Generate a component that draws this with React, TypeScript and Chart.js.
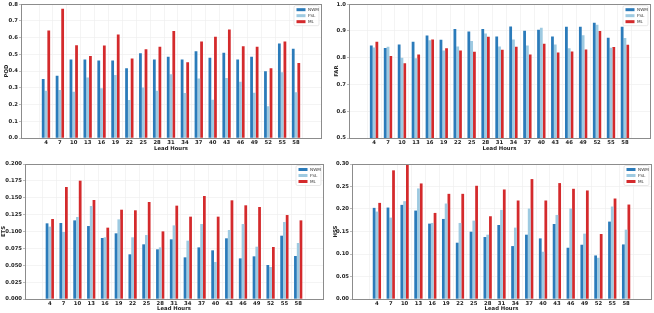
import React, { useEffect, useRef } from "react";
import { Chart, registerables } from "chart.js";

Chart.register(...registerables);

const LEAD_HOURS = ["4", "7", "10", "13", "16", "19", "22", "25", "28", "31", "34", "37", "40", "43", "46", "49", "52", "55", "58"];
const SERIES_NAMES = ["NWM", "FSL", "ML"];
const SERIES_COLORS = ["#2b7bba", "#9ecae1", "#d42a2c"];

const POD_NWM = [0.352, 0.372, 0.470, 0.470, 0.464, 0.464, 0.417, 0.506, 0.470, 0.486, 0.470, 0.518, 0.480, 0.510, 0.470, 0.486, 0.399, 0.565, 0.534];
const POD_FSL = [0.283, 0.287, 0.277, 0.362, 0.298, 0.377, 0.227, 0.302, 0.283, 0.381, 0.269, 0.356, 0.229, 0.358, 0.336, 0.271, 0.190, 0.393, 0.273];
const POD_ML = [0.642, 0.773, 0.555, 0.490, 0.553, 0.619, 0.476, 0.530, 0.545, 0.640, 0.453, 0.577, 0.605, 0.648, 0.549, 0.545, 0.417, 0.577, 0.449];

const FAR_NWM = [0.846, 0.836, 0.849, 0.860, 0.883, 0.867, 0.907, 0.898, 0.907, 0.879, 0.917, 0.901, 0.904, 0.879, 0.916, 0.916, 0.931, 0.875, 0.916];
const FAR_FSL = [0.838, 0.841, 0.800, 0.798, 0.865, 0.827, 0.842, 0.862, 0.890, 0.842, 0.868, 0.846, 0.912, 0.849, 0.835, 0.884, 0.923, 0.837, 0.874];
const FAR_ML = [0.860, 0.806, 0.779, 0.812, 0.868, 0.835, 0.827, 0.822, 0.878, 0.830, 0.841, 0.812, 0.852, 0.819, 0.823, 0.831, 0.900, 0.840, 0.848];

const ETS_NWM = [0.1121, 0.1126, 0.1165, 0.1081, 0.0904, 0.0973, 0.0662, 0.0810, 0.0736, 0.0884, 0.0617, 0.0765, 0.0721, 0.0899, 0.0602, 0.0632, 0.0504, 0.0938, 0.0637];
const ETS_FSL = [0.1072, 0.0993, 0.1215, 0.1378, 0.0914, 0.1180, 0.0914, 0.0948, 0.0765, 0.1091, 0.0864, 0.1111, 0.0548, 0.1022, 0.1111, 0.0775, 0.0474, 0.1141, 0.0830];
const ETS_ML = [0.1185, 0.1659, 0.1753, 0.1467, 0.1057, 0.1323, 0.1314, 0.1437, 0.1002, 0.1383, 0.1220, 0.1526, 0.1220, 0.1462, 0.1388, 0.1363, 0.0770, 0.1244, 0.1165];

const HSS_NWM = [0.2025, 0.2032, 0.2092, 0.1965, 0.1675, 0.1779, 0.1251, 0.1496, 0.1377, 0.1645, 0.1176, 0.1429, 0.1347, 0.1667, 0.1139, 0.1206, 0.0968, 0.1720, 0.1213];
const HSS_FSL = [0.1943, 0.1809, 0.2174, 0.2457, 0.1690, 0.2122, 0.1690, 0.1742, 0.1429, 0.1980, 0.1586, 0.2010, 0.1050, 0.1868, 0.2010, 0.1452, 0.0916, 0.2055, 0.1541];
const HSS_ML = [0.2136, 0.2859, 0.3000, 0.2568, 0.1913, 0.2337, 0.2337, 0.2516, 0.1839, 0.2434, 0.2189, 0.2665, 0.2189, 0.2576, 0.2449, 0.2412, 0.1444, 0.2233, 0.2099];

const POD_TICKS = [0, 0.1, 0.2, 0.3, 0.4, 0.5, 0.6, 0.7, 0.8];
const FAR_TICKS = [0.5, 0.6, 0.7, 0.8, 0.9, 1.0];
const ETS_TICKS = [0, 0.025, 0.05, 0.075, 0.1, 0.125, 0.15, 0.175, 0.2];
const HSS_TICKS = [0, 0.05, 0.1, 0.15, 0.2, 0.25, 0.3];

const X_TITLE = "Lead Hours";
const FONT = '"DejaVu Sans", sans-serif';

type Panel = {
  left: number; top: number; w: number; h: number;
  title: string; series: number[][]; ticks: number[]; decimals: number;
  yWidth: number; xHeight: number; padRight: number; padTop: number;
  yTitlePad: number; xTitlePad: number;
};

const PANELS: Panel[] = [
  { left: 0, top: 0, w: 327, h: 156, title: "POD", series: [POD_NWM, POD_FSL, POD_ML], ticks: POD_TICKS, decimals: 1, yWidth: 21, xHeight: 18, padRight: 6, padTop: 3, yTitlePad: 3.3, xTitlePad: 3.8 },
  { left: 327, top: 0, w: 327, h: 156, title: "FAR", series: [FAR_NWM, FAR_FSL, FAR_ML], ticks: FAR_TICKS, decimals: 1, yWidth: 22, xHeight: 18, padRight: 4, padTop: 3, yTitlePad: 6.1, xTitlePad: 3.8 },
  { left: 0, top: 156, w: 327, h: 157, title: "ETS", series: [ETS_NWM, ETS_FSL, ETS_ML], ticks: ETS_TICKS, decimals: 3, yWidth: 25, xHeight: 14, padRight: 4, padTop: 8, yTitlePad: 0.3, xTitlePad: 0.8 },
  { left: 327, top: 156, w: 327, h: 157, title: "HSS", series: [HSS_NWM, HSS_FSL, HSS_ML], ticks: HSS_TICKS, decimals: 2, yWidth: 25, xHeight: 14, padRight: 3, padTop: 8, yTitlePad: 5.8, xTitlePad: 0.8 },
];

const boxPlugin = {
  id: "frameBox",
  afterDatasetsDraw(chart: any) {
    const { ctx, chartArea: ca } = chart;
    ctx.save();
    ctx.strokeStyle = "#8c8c8c";
    ctx.lineWidth = 1;
    ctx.strokeRect(Math.round(ca.left) + 0.5, Math.round(ca.top) + 0.5, Math.round(ca.right - ca.left), Math.round(ca.bottom - ca.top));
    ctx.restore();
  },
};

const legendPlugin = {
  id: "innerLegend",
  afterDraw(chart: any) {
    const { ctx, chartArea: ca } = chart;
    ctx.save();
    const w = 25, h = 20;
    const x0 = ca.right - w - 2;
    const y0 = ca.top + 1.5;
    ctx.fillStyle = "rgba(255,255,255,0.85)";
    ctx.strokeStyle = "#d8d8d8";
    ctx.lineWidth = 0.6;
    ctx.beginPath();
    (ctx as any).roundRect(x0, y0, w, h, 1.5);
    ctx.fill();
    ctx.stroke();
    ctx.font = `4.2px ${FONT}`;
    ctx.textBaseline = "middle";
    ctx.textAlign = "left";
    chart.data.datasets.forEach((ds: any, i: number) => {
      const y = y0 + 4 + i * 6;
      ctx.fillStyle = ds.backgroundColor;
      ctx.fillRect(x0 + 2.5, y - 1.5, 9, 3);
      ctx.fillStyle = "#333";
      ctx.fillText(ds.label, x0 + 14, y);
    });
    ctx.restore();
  },
};

function ChartPanel({ p }: { p: Panel }) {
  const ref = useRef<HTMLCanvasElement>(null);
  useEffect(() => {
    const canvas = ref.current!;
    const chart = new Chart(canvas, {
      type: "bar",
      data: {
        datasets: p.series.map((vals, si) => ({
          label: SERIES_NAMES[si],
          data: vals.map((v, i) => ({ x: i, y: v })),
          backgroundColor: SERIES_COLORS[si],
          borderWidth: 0,
          categoryPercentage: 0.6,
          barPercentage: 1.0,
        })),
      },
      options: {
        responsive: false,
        animation: false,
        devicePixelRatio: 1,
        layout: { padding: { left: 0, right: p.padRight, top: p.padTop, bottom: 0 } },
        plugins: { legend: { display: false }, tooltip: { enabled: false } },
        scales: {
          x: {
            type: "linear",
            min: -1.23,
            max: LEAD_HOURS.length - 1 + 1.23,
            afterBuildTicks: (s: any) => { s.ticks = LEAD_HOURS.map((_, i) => ({ value: i })); },
            afterFit: (s: any) => { s.height = p.xHeight; },
            ticks: {
              autoSkip: false, maxRotation: 0, minRotation: 0, padding: 1,
              color: "#222",
              font: { family: FONT, size: 5.3, weight: "bold" },
              callback: (v: any) => LEAD_HOURS[Math.round(v)] ?? "",
            },
            grid: { color: "#ececec", lineWidth: 0.6, drawTicks: false },
            border: { display: false },
            title: { display: true, text: X_TITLE, color: "#222", font: { family: FONT, size: 5.3, weight: "bold" }, padding: { top: 0, bottom: p.xTitlePad } },
          },
          y: {
            type: "linear",
            min: p.ticks[0],
            max: p.ticks[p.ticks.length - 1],
            afterBuildTicks: (s: any) => { s.ticks = p.ticks.map((v) => ({ value: v })); },
            afterFit: (s: any) => { s.width = p.yWidth; },
            ticks: {
              padding: 1,
              color: "#222",
              font: { family: FONT, size: 5.3, weight: "bold" },
              callback: (v: any) => Number(v).toFixed(p.decimals),
            },
            grid: { color: "#ececec", lineWidth: 0.6, drawTicks: true, tickLength: 2, tickColor: "#8c8c8c" },
            border: { display: false },
            title: { display: true, text: p.title, color: "#222", font: { family: FONT, size: 5.3, weight: "bold" }, padding: { top: p.yTitlePad, bottom: 0 } },
          },
        },
      } as any,
      plugins: [boxPlugin, legendPlugin],
    });
    return () => chart.destroy();
  }, [p]);
  return (
    <canvas
      ref={ref}
      width={p.w}
      height={p.h}
      style={{ position: "absolute", left: p.left, top: p.top, width: p.w, height: p.h, display: "block" }}
    />
  );
}

export default function App() {
  return (
    <div style={{ position: "absolute", left: 0, top: 0, width: 654, height: 313, background: "#fff", overflow: "hidden" }}>
      {PANELS.map((p) => (
        <ChartPanel key={p.title} p={p} />
      ))}
    </div>
  );
}
